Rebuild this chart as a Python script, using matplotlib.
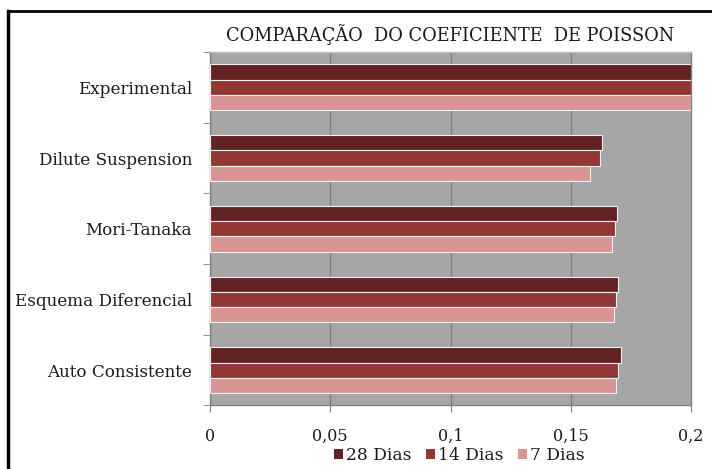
import numpy as np
import matplotlib
matplotlib.use('Agg')
import matplotlib.pyplot as plt
from matplotlib.patches import Patch
from matplotlib.lines import Line2D

# data
categories = ['Experimental', 'Dilute Suspension', 'Mori-Tanaka', 'Esquema Diferencial', 'Auto Consistente']
series = ['28 Dias', '14 Dias', '7 Dias']
dias28 = [0.200, 0.1629, 0.1692, 0.1697, 0.1708]
dias14 = [0.200, 0.1622, 0.1682, 0.1690, 0.1697]
dias7 = [0.200, 0.1580, 0.1670, 0.1680, 0.1690]
xticks = [0, 0.05, 0.1, 0.15, 0.2]
xticklabels = ['0', '0,05', '0,1', '0,15', '0,2']

colors = ['#632324', '#943634', '#d99594']
plt.rcParams['font.family'] = 'DejaVu Serif'
txtcol = '#1a1a1a'

fig = plt.figure(figsize=(7.12, 4.69), dpi=100)
ax = fig.add_axes([0.295, 0.1354, 0.6755, 0.7537])
ax.set_facecolor('#a6a6a6')

n = len(categories)
ypos = np.arange(n)[::-1]
h = 0.216
for vals, off, c in zip([dias28, dias14, dias7], [h, 0, -h], colors):
    ax.barh(ypos + off, vals, height=h, color=c, edgecolor='#f2f2f2', linewidth=0.8, zorder=3)

ax.set_xlim(0, 0.2)
ax.set_ylim(-0.5, n - 0.5)
ax.set_xticks(xticks)
ax.set_xticklabels(xticklabels, fontsize=11.5, color=txtcol)
ax.xaxis.grid(True, color='#7f7f7f', linewidth=1.0, zorder=1)
ax.tick_params(axis='x', length=5, color='#808080', pad=11)

ax.set_yticks(ypos)
ax.set_yticklabels(categories, fontsize=12.1, color=txtcol)
ax.set_yticks(np.arange(n + 1) - 0.5, minor=True)
ax.tick_params(axis='y', which='major', length=0, pad=13)
ax.tick_params(axis='y', which='minor', length=5, color='#808080')

for s in ax.spines.values():
    s.set_color('#808080')
    s.set_linewidth(1.0)
ax.spines['top'].set_color('#bfbfbf')

ax.set_title('COMPARAÇÃO  DO COEFICIENTE  DE POISSON', fontsize=12.8, pad=8, color=txtcol)

handles = [Patch(facecolor=c, edgecolor='none') for c in colors]
fig.legend(handles, series, loc='center', bbox_to_anchor=(0.645, 0.028), ncol=3,
           frameon=False, fontsize=12.3, handlelength=0.55, handleheight=0.55,
           handletextpad=0.2, columnspacing=0.8, labelcolor=txtcol)

# outer frame (left and top visible)
fig.add_artist(Line2D([8 / 712, 8 / 712], [0, 1 - 11 / 469], color='black', linewidth=2.5, transform=fig.transFigure))
fig.add_artist(Line2D([8 / 712, 1], [1 - 11 / 469, 1 - 11 / 469], color='black', linewidth=2, transform=fig.transFigure))

fig.savefig('out.png', dpi=100)
